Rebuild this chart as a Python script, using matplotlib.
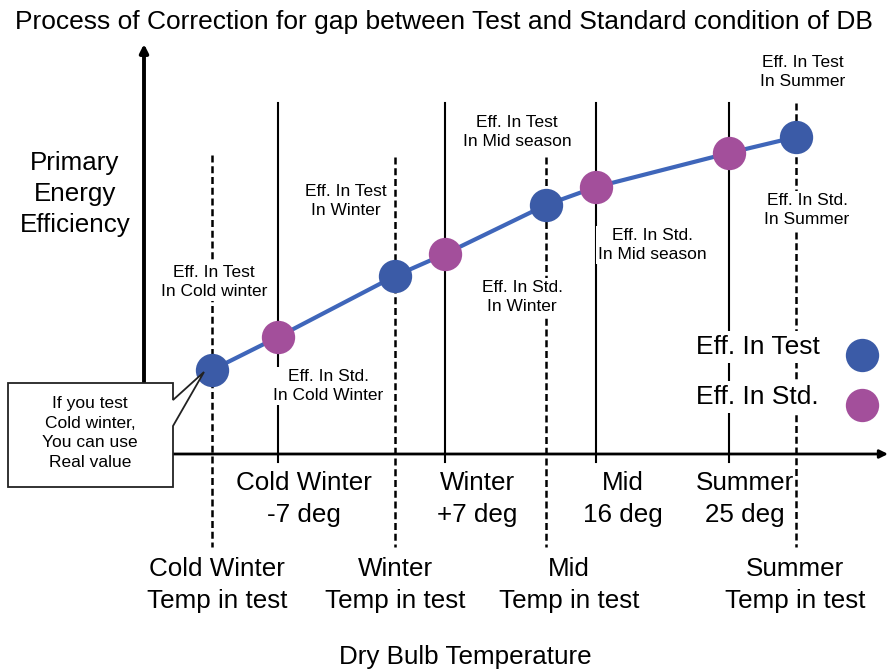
import matplotlib
matplotlib.use('Agg')
import matplotlib.pyplot as plt
from matplotlib.patches import Polygon

plt.rcParams['font.family'] = ['Liberation Sans', 'DejaVu Sans']

# Schematic positions along the dry bulb axis and efficiency values (arbitrary units)
std_names = ['Cold Winter\n-7 deg', 'Winter\n+7 deg', 'Mid\n16 deg', 'Summer\n25 deg']
std_pos = [134, 301, 452, 585]
std_eff = [117, 200, 267, 301]

test_names = ['Cold Winter\nTemp in test', 'Winter\nTemp in test', 'Mid\nTemp in test', 'Summer\nTemp in test']
test_pos = [68, 251, 402, 652]
test_eff = [84, 178, 249, 317]

test_notes = ['Eff. In Test\nIn Cold winter', 'Eff. In Test\nIn Winter',
              'Eff. In Test\nIn Mid season', 'Eff. In Test\nIn Summer']
std_notes = ['Eff. In Std.\nIn Cold Winter', 'Eff. In Std.\nIn Winter',
             'Eff. In Std.\nIn Mid season', 'Eff. In Std.\nIn Summer']

BLUE = '#3b5ba7'
PURPLE = '#a34f9b'
LINE = '#3f66ba'

X0, Y0 = 144, 454


def px(x, y):
    # pixel position on the canvas -> axis units
    return x - X0, Y0 - y


fig = plt.figure(figsize=(8.88, 6.71), dpi=100)
ax = fig.add_axes([0, 0, 1, 1])
ax.set_xlim(-X0, 888 - X0)
ax.set_ylim(Y0 - 671, Y0)
ax.axis('off')

# axes with arrow heads
ax.annotate('', xy=px(144, 44), xytext=(0, 0),
            arrowprops=dict(arrowstyle='-|>', lw=2.8, color='black', mutation_scale=12,
                            shrinkA=0, shrinkB=0), zorder=2)
ax.annotate('', xy=px(888, 454), xytext=(0, 0),
            arrowprops=dict(arrowstyle='-|>', lw=2.0, color='black', mutation_scale=12,
                            shrinkA=0, shrinkB=0), zorder=2)

# standard condition lines (solid) and test condition lines (dashed)
std_top = [103, 103, 103, 103]
test_top = [155, 157, 157, 103]
for x, top in zip(std_pos, std_top):
    ax.plot([x, x], [px(0, top)[1], px(0, 462)[1]], color='black', lw=1.5, zorder=1)
for x, top in zip(test_pos, test_top):
    ax.plot([x, x], [px(0, top)[1], px(0, 547)[1]], color='black', lw=1.8,
            linestyle=(0, (2.8, 1.5)), zorder=1)

# efficiency curve through all points in temperature order
pts = sorted(zip(test_pos + std_pos, test_eff + std_eff))
ax.plot([p[0] for p in pts], [p[1] for p in pts], color=LINE, lw=3, zorder=4)
ax.plot(test_pos, test_eff, 'o', color=BLUE, ms=24, mec='none', zorder=5)
ax.plot(std_pos, std_eff, 'o', color=PURPLE, ms=24, mec='none', zorder=5)

white = dict(facecolor='white', edgecolor='none', pad=1.5)
small = dict(fontsize=12.5, ha='center', va='center', linespacing=1.35, zorder=3, bbox=white)

test_note_xy = [(214, 282), (346, 201), (517, 132), (803, 72)]
std_note_xy = [(328, 386), (522, 297), (652, 245), (807, 210)]
for note, (x, y) in zip(test_notes, test_note_xy):
    ax.text(*px(x, y), note, **small)
for note, (x, y) in zip(std_notes, std_note_xy):
    ax.text(*px(x, y), note, **small)

# temperature labels below the axis
big = dict(fontsize=18.7, ha='center', va='center', linespacing=1.42, zorder=3)
std_label_x = [304, 477, 623, 745]
for name, x in zip(std_names, std_label_x):
    ax.text(*px(x, 499), name, **big)
test_label_x = [217, 395, 569, 795]
for name, x in zip(test_names, test_label_x):
    ax.text(*px(x, 585), name, **big)

ax.text(*px(465, 657), 'Dry Bulb Temperature', **big)
ax.text(*px(75, 194), 'Primary\nEnergy\nEfficiency', fontsize=18.7, ha='center', va='center',
        linespacing=1.35)
ax.text(*px(444, 22), 'Process of Correction for gap between Test and Standard condition of DB',
        fontsize=19, ha='center', va='center')

# legend
for label, col, y in [('Eff. In Test', BLUE, 347), ('Eff. In Std.', PURPLE, 397)]:
    ax.text(*px(696, y), label, fontsize=19, ha='left', va='center', zorder=3,
            bbox=dict(facecolor='white', edgecolor='none', pad=3))
    ax.plot(*px(862, y + 8), 'o', color=col, ms=24, mec='none', zorder=5)

# callout box
box = [px(8, 383), px(173, 383), px(173, 400), px(204, 372), px(173, 426),
       px(173, 487), px(8, 487)]
ax.add_patch(Polygon(box, closed=True, facecolor='white', edgecolor='#222222', lw=1.3, zorder=6))
ax.text(*px(90, 433), 'If you test\nCold winter,\nYou can use\nReal value',
        fontsize=12.5, ha='center', va='center', linespacing=1.4, zorder=7)

fig.savefig('out.png', dpi=100)
